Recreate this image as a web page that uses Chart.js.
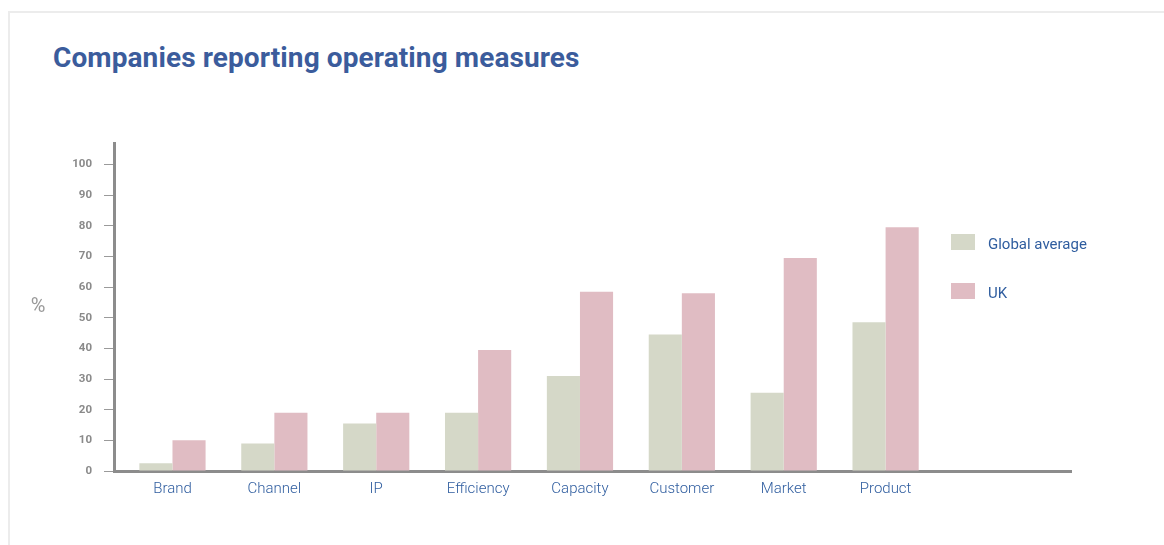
<!DOCTYPE html>
<html>
<head>
<meta charset="utf-8">
<title>Companies reporting operating measures</title>
<script src="https://cdn.jsdelivr.net/npm/chart.js@4.4.1/dist/chart.umd.min.js"></script>
<style>
  html, body { margin: 0; padding: 0; background: #fff; }
  body { width: 1164px; height: 545px; position: relative; overflow: hidden; }
  .frame {
    position: absolute; left: 8px; top: 11px; right: -10px; bottom: -10px;
    border-top: 2px solid #ececec; border-left: 2px solid #ececec;
  }
  h1 {
    position: absolute; left: 53px; top: 41px; margin: 0;
    font: bold 28px Roboto, sans-serif; color: #3b5c9c; letter-spacing: 0.1px;
  }
  #wrap { position: absolute; left: 0; top: 0; width: 1164px; height: 545px; }
</style>
</head>
<body>
<div class="frame"></div>
<h1>Companies reporting operating measures</h1>
<div id="wrap"><canvas id="myChart"></canvas></div>
<script>
  "use strict";

  var categories = ["Brand", "Channel", "IP", "Efficiency", "Capacity", "Customer", "Market", "Product"];
  var globalAverage = [2.5, 9, 15.5, 19, 31, 44.5, 25.5, 48.5];
  var ukValues = [10, 19, 19, 39.5, 58.5, 58, 69.5, 79.5];
  var yTicks = [0, 10, 20, 30, 40, 50, 60, 70, 80, 90, 100];

  var greenGrey = "#d5d8c8";
  var pink = "#e0bcc3";
  var blue = "#2f5d9f";
  var grey = "#8c8c8c";

  function toPoints(values) {
    return values.map(function (v, i) { return { x: i, y: v }; });
  }

  // legend drawn to the right inside the plot, stacked vertically
  var sideLegend = {
    id: "sideLegend",
    afterDraw: function (chart) {
      var ctx = chart.ctx;
      ctx.save();
      ctx.font = "15px Roboto, sans-serif";
      ctx.textBaseline = "middle";
      chart.data.datasets.forEach(function (ds, i) {
        var y = 234 + i * 49;
        ctx.fillStyle = ds.backgroundColor;
        ctx.fillRect(951, y, 24, 16);
        ctx.fillStyle = blue;
        ctx.fillText(ds.label, 988, y + 11);
      });
      ctx.restore();
    }
  };

  // upright "%" unit label left of the y axis, centred on the plot height
  var unitLabel = {
    id: "unitLabel",
    afterDraw: function (chart) {
      var ctx = chart.ctx;
      var area = chart.chartArea;
      ctx.save();
      ctx.font = "20px Roboto, sans-serif";
      ctx.fillStyle = "#999999";
      ctx.textAlign = "center";
      ctx.textBaseline = "middle";
      ctx.fillText("%", 38, (area.top + area.bottom) / 2);
      ctx.restore();
    }
  };

  var ctx = document.getElementById("myChart").getContext("2d");
  var chart1 = new Chart(ctx, {
    type: "bar",
    data: {
      datasets: [
        {
          label: "Global average",
          backgroundColor: greenGrey,
          data: toPoints(globalAverage),
        },
        {
          label: "UK",
          backgroundColor: pink,
          data: toPoints(ukValues),
        },
      ],
    },
    plugins: [sideLegend, unitLabel],
    options: {
      responsive: true,
      maintainAspectRatio: false,
      animation: false,
      layout: { padding: { left: 10, right: 93, top: 143, bottom: 0 } },
      datasets: {
        bar: { barPercentage: 1, categoryPercentage: 0.65 }
      },
      plugins: {
        legend: { display: false },
        tooltip: { enabled: false },
      },
      scales: {
        x: {
          type: "linear",
          min: -0.574,
          max: 8.82,
          offset: false,
          grid: { display: false, drawTicks: false },
          border: { display: true, color: grey, width: 3 },
          afterFit: function (scale) { scale.height = 74; },
          ticks: {
            stepSize: 1,
            includeBounds: false,
            autoSkip: false,
            maxRotation: 0,
            padding: 9,
            color: blue,
            font: { family: "Roboto", size: 15, weight: "300" },
            callback: function (value) {
              return Number.isInteger(value) && categories[value] ? categories[value] : "";
            },
          },
        },
        y: {
          min: 0,
          max: 107,
          afterBuildTicks: function (scale) {
            scale.ticks = yTicks.map(function (v) { return { value: v }; });
          },
          afterFit: function (scale) { scale.width = 104; },
          grid: {
            drawOnChartArea: false,
            drawTicks: true,
            tickLength: 10,
            tickColor: "#9a9a9a",
            tickWidth: 1,
          },
          border: { display: true, color: grey, width: 3 },
          ticks: {
            padding: 12,
            color: "#8a8a8a",
            font: { family: "Roboto", size: 11.5, weight: "bold" },
          },
        },
      },
    },
  });
</script>
</body>
</html>
